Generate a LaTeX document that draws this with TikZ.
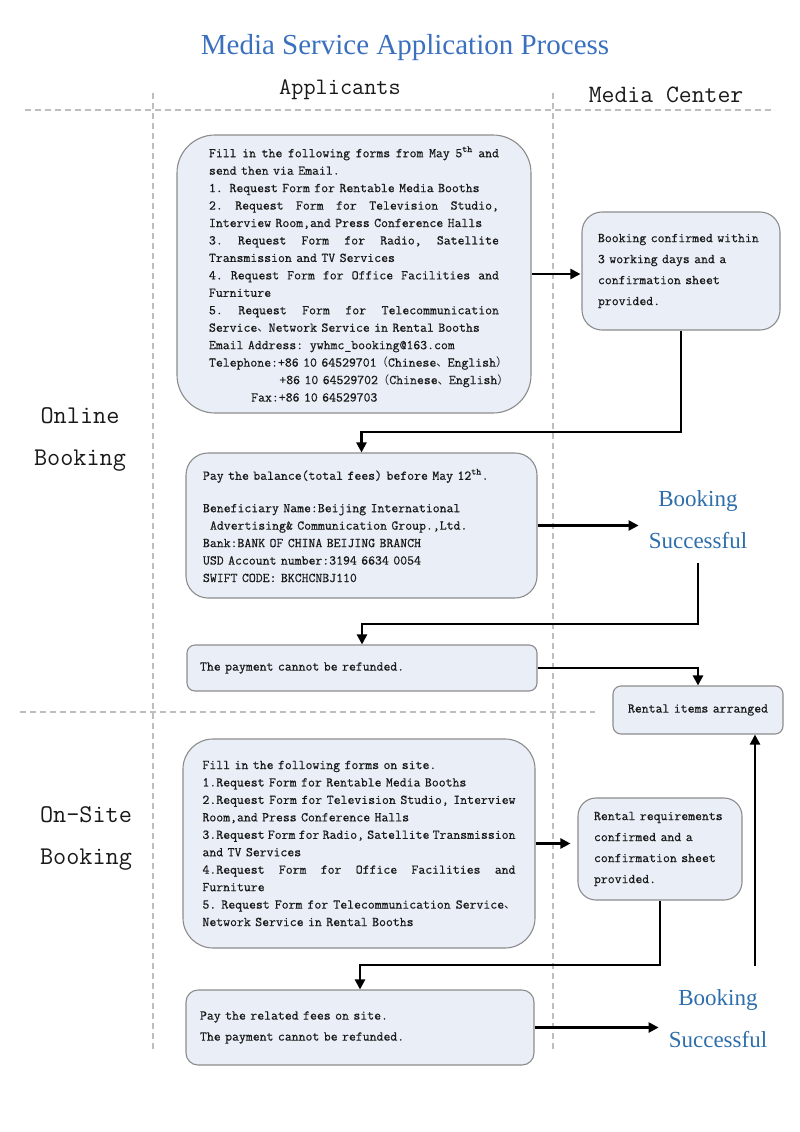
\documentclass[tikz,border=0pt]{standalone}
\usepackage{fontspec}
\setmainfont{Liberation Serif}
\newfontfamily\cjk[Scale=0.85]{Noto Sans CJK SC}
\newfontfamily\monof[RawFeature={embolden=0.5}]{Latin Modern Mono}
\usetikzlibrary{arrows.meta}
\definecolor{titleblue}{RGB}{58,112,190}
\definecolor{okblue}{RGB}{46,110,170}
\definecolor{boxfill}{RGB}{233,238,247}
\definecolor{boxline}{RGB}{140,140,140}
\definecolor{dashgray}{RGB}{190,190,190}
\hyphenpenalty=10000
\newcommand\zl{{\cjk （}}
\newcommand\zr{{\cjk ）}}
\newcommand\zd{{\cjk 、}}
\def\js{\hskip .525em plus 1fil minus .3em\relax}
\newcommand\jl[2]{\leavevmode\hbox to #1{#2}}
\newcommand\nb[1]{\leavevmode\hbox{#1}}
\tikzset{
  box/.style={draw=boxline, fill=boxfill, line width=1.1pt, inner sep=0pt,
    font=\monof\fontsize{13.4}{17.45}\selectfont, text=black!90, align=left},
  wide/.style={font=\monof\fontsize{13.4}{21}\selectfont},
  conn/.style={draw=black, line width=2.3pt, line join=miter, -{Triangle[length=10pt,width=10pt]}},
  lane/.style={draw=dashgray, line width=1.1pt, dash pattern=on 6pt off 4pt},
  okbox/.style={font=\fontsize{23}{42}\selectfont, text=okblue, align=center, inner xsep=10pt, inner ysep=14pt},
  role/.style={font=\ttfamily\fontsize{25.5}{42}\selectfont, text=black!90, align=center},
}
\begin{document}
\begin{tikzpicture}[x=1pt,y=-1pt]
\useasboundingbox (0,0) rectangle (800,1132);
% lanes
\draw[lane] (25,110) -- (775,110);
\draw[lane] (20,712) -- (595,712);
\draw[lane] (153,93) -- (153,1050);
\draw[lane] (553,93) -- (553,1050);
% headings
\node[font=\fontsize{29}{34}\selectfont, text=titleblue] (title) at (405,48) {Media Service Application Process};
\node[role, font=\ttfamily\fontsize{23.6}{30}\selectfont] (app) at (340,90) {Applicants};
\node[role, font=\ttfamily\fontsize{25}{30}\selectfont] (mc) at (666,95) {Media Center};
\node[role] (online) at (80,439) {Online\\Booking};
\node[role] (onsite) at (86,838) {On-Site\\Booking};
% boxes
\node[box, rounded corners=38pt, minimum width=354pt, minimum height=278pt, text width=290pt] (B1) at (354,274) {%
\jl{290pt}{Fill\js in\js the\js following\js forms\js from\js May\js 5\textsuperscript{th}\js and}\\
send then via Email.\\
1. Request Form for Rentable Media Booths\\
\jl{290pt}{2.\js Request\js Form\js for\js Television\js Studio,}\\
Interview Room,and Press Conference Halls\\
\jl{290pt}{3.\js Request\js Form\js for\js Radio,\js Satellite}\\
Transmission and TV Services\\
\jl{290pt}{4.\js Request\js Form\js for\js Office\js Facilities\js and}\\
Furniture\\
\jl{290pt}{5.\js Request\js Form\js for\js Telecommunication}\\
Service\zd Network Service in Rental Booths\\
Email Address: ywhmc\_booking@163.com\\
\nb{Telephone:+86 10 64529701\zl Chinese\zd English\zr}\\
\nb{\hspace*{5.25em}+86 10 64529702\zl Chinese\zd English\zr}\\
\nb{\hspace*{3.15em}Fax:+86 10 64529703}};
\node[box, wide, rounded corners=20pt, minimum width=198pt, minimum height=118pt, text width=166pt] (B2) at (681,271) {%
Booking confirmed within\\3 working days and a\\confirmation sheet\\provided.};
\node[box, rounded corners=22pt, minimum width=351pt, minimum height=145pt, text width=317pt] (B3) at (361.5,525.5) {%
Pay the balance(total fees) before May 12\textsuperscript{th}.\\[15pt]
Beneficiary Name:Beijing International\\
\hspace*{.525em}Advertising\& Communication Group.,Ltd.\\
Bank:BANK OF CHINA BEIJING BRANCH\\
USD Account number:3194 6634 0054\\
SWIFT CODE: BKCHCNBJ110};
\node[okbox] (BS1) at (698,520) {Booking\\Successful};
\node[box, rounded corners=8pt, minimum width=350pt, minimum height=46pt, text width=324pt] (B4) at (362,668) {The payment cannot be refunded.};
\node[box, rounded corners=8pt, minimum width=170pt, minimum height=48pt, text width=160pt, align=center] (B5) at (698,710) {Rental items arranged};
\node[box, rounded corners=30pt, minimum width=352pt, minimum height=209pt, text width=313pt] (B6) at (359,843.5) {%
Fill in the following forms on site.\\
1.Request Form for Rentable Media Booths\\
\jl{313pt}{2.Request\js Form\js for\js Television\js Studio,\js Interview}\\
Room,and Press Conference Halls\\
\jl{313pt}{3.Request\js Form\js for\js Radio,\js Satellite\js Transmission}\\
and TV Services\\
\jl{313pt}{4.Request\js Form\js for\js Office\js Facilities\js and}\\
Furniture\\
\jl{313pt}{5.\js Request\js Form\js for\js Telecommunication\js Service\zd}\\
Network Service in Rental Booths};
\node[box, wide, rounded corners=18pt, minimum width=164pt, minimum height=102pt, text width=132pt] (B7) at (660,849) {%
Rental requirements\\confirmed and a\\confirmation sheet\\provided.};
\node[box, wide, rounded corners=12pt, minimum width=348pt, minimum height=75pt, text width=320pt] (B8) at (360,1027.5) {%
Pay the related fees on site.\\The payment cannot be refunded.};
\node[okbox] (BS2) at (718,1019) {Booking\\Successful};
% corner coordinates
\coordinate (k2) at (0,432);
\coordinate (k4) at (698,624);
\coordinate (k7) at (0,965);
\coordinate (u0) at (755,966);
% connectors
\draw[conn, shorten >=1pt] (B1.east) -- (B1.east -| B2.west);
\draw[conn] (B2.south) -- (B2.south |- k2) -| (B3.north);
\draw[conn] (B3.east) -- (B3.east -| BS1.west);
\draw[conn] (BS1.south) -- (k4) -| (B4.north);
\draw[conn] (B4.east) -| (B5.north);
\draw[conn, shorten >=7pt] (B6.east) -- (B6.east -| B7.west);
\draw[conn] (B7.south) -- (B7.south |- k7) -| (B8.north);
\draw[conn] (B8.east) -- (B8.east -| BS2.west);
\draw[conn] (u0) -- (u0 |- B5.south);
\end{tikzpicture}
\end{document}
